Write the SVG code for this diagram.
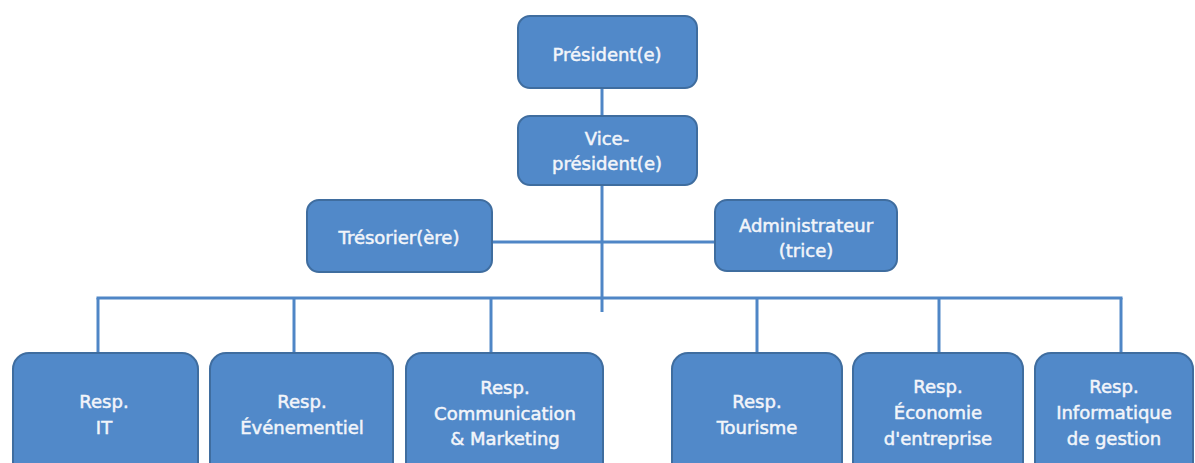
<svg xmlns="http://www.w3.org/2000/svg" width="1195" height="463" viewBox="0 0 1195 463">
  <style>
    .box { fill: #5189c9; stroke: #3f6d9f; stroke-width: 2; }
    .lbl { font-family: "DejaVu Sans", "Liberation Sans", sans-serif; font-size: 18px; fill: #f2f5fa; stroke: #f2f5fa; stroke-width: 0.5; text-anchor: middle; dominant-baseline: central; }
    .link { stroke: #4f86c6; stroke-width: 3; fill: none; }
  </style>
  <rect width="1195" height="463" fill="#ffffff"/>

  <!-- connectors -->
  <g id="connectors" class="link">
    <line x1="602" y1="88" x2="602" y2="116"/>
    <line x1="602" y1="185" x2="602" y2="312"/>
    <line x1="492" y1="242" x2="715" y2="242"/>
    <line x1="96.5" y1="298" x2="1122.5" y2="298"/>
    <line x1="98" y1="298" x2="98" y2="353"/>
    <line x1="294" y1="298" x2="294" y2="353"/>
    <line x1="491" y1="298" x2="491" y2="353"/>
    <line x1="757" y1="298" x2="757" y2="353"/>
    <line x1="939" y1="298" x2="939" y2="353"/>
    <line x1="1121" y1="298" x2="1121" y2="353"/>
  </g>

  <g id="president">
    <rect class="box" x="518" y="16" width="179" height="72" rx="12"/>
    <text class="lbl" x="607" y="54">Président(e)</text>
  </g>

  <g id="vice-president">
    <rect class="box" x="518" y="116" width="179" height="69" rx="12"/>
    <text class="lbl" x="607" y="138">Vice-</text>
    <text class="lbl" x="607" y="163">président(e)</text>
  </g>

  <g id="tresorier">
    <rect class="box" x="307" y="200" width="185" height="72" rx="12"/>
    <text class="lbl" x="399" y="237">Trésorier(ère)</text>
  </g>

  <g id="administrateur">
    <rect class="box" x="715" y="200" width="182" height="71" rx="12"/>
    <text class="lbl" x="806" y="225">Administrateur</text>
    <text class="lbl" x="806" y="250">(trice)</text>
  </g>

  <g id="resp-it">
    <rect class="box" x="13" y="353" width="185" height="125" rx="16"/>
    <text class="lbl" x="104" y="401">Resp.</text>
    <text class="lbl" x="104" y="427">IT</text>
  </g>

  <g id="resp-evenementiel">
    <rect class="box" x="210" y="353" width="183" height="125" rx="16"/>
    <text class="lbl" x="302" y="401">Resp.</text>
    <text class="lbl" x="302" y="427">Événementiel</text>
  </g>

  <g id="resp-communication">
    <rect class="box" x="406" y="353" width="197" height="125" rx="16"/>
    <text class="lbl" x="505" y="387">Resp.</text>
    <text class="lbl" x="505" y="413">Communication</text>
    <text class="lbl" x="505" y="438">&amp; Marketing</text>
  </g>

  <g id="resp-tourisme">
    <rect class="box" x="672" y="353" width="170" height="125" rx="16"/>
    <text class="lbl" x="757" y="401">Resp.</text>
    <text class="lbl" x="757" y="427">Tourisme</text>
  </g>

  <g id="resp-economie">
    <rect class="box" x="853" y="353" width="170" height="125" rx="16"/>
    <text class="lbl" x="938" y="386">Resp.</text>
    <text class="lbl" x="938" y="412">Économie</text>
    <text class="lbl" x="938" y="438">d'entreprise</text>
  </g>

  <g id="resp-informatique">
    <rect class="box" x="1035" y="353" width="158" height="125" rx="16"/>
    <text class="lbl" x="1114" y="386">Resp.</text>
    <text class="lbl" x="1114" y="412">Informatique</text>
    <text class="lbl" x="1114" y="438">de gestion</text>
  </g>
</svg>
